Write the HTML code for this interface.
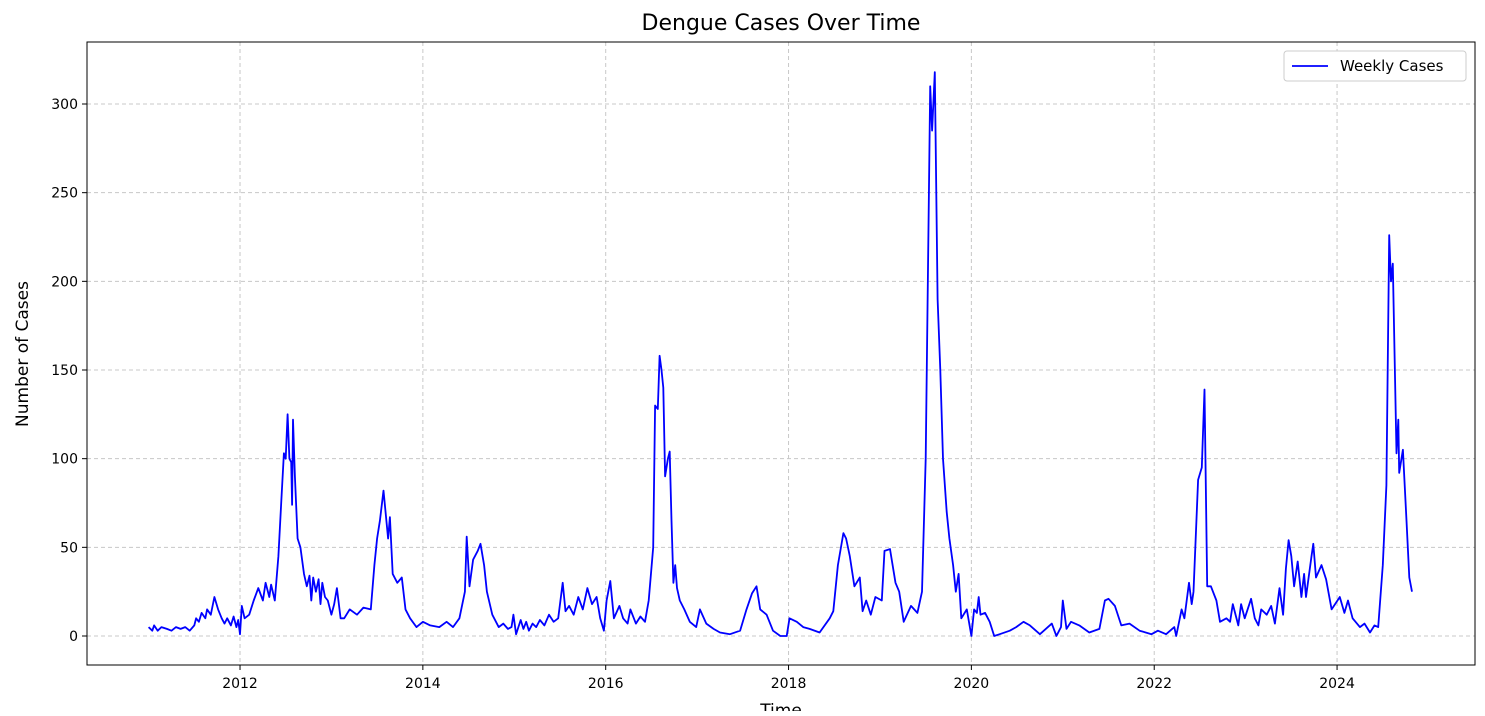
<!DOCTYPE html>
<html><head><meta charset="utf-8"><style>
body{margin:0;background:#fff;font-family:"Liberation Sans","DejaVu Sans",sans-serif}
svg text{font-family:"DejaVu Sans","Liberation Sans",sans-serif}
</style></head><body>
<svg id="chart" width="1485" height="711">
<text x="781" y="30" font-size="22" text-anchor="middle">Dengue Cases Over Time</text>
<g id="grid"></g><g id="ticks"></g>
<path id="line" fill="none" stroke="#0000ff" stroke-width="1.8" stroke-linejoin="round"/>
<rect x="87" y="42" width="1388" height="623" fill="none" stroke="#000" stroke-width="1"/>
<text x="28" y="354" font-size="17" text-anchor="middle" transform="rotate(-90 28 354)">Number of Cases</text>
<text x="781" y="716" font-size="17" text-anchor="middle">Time</text>
<g>
<rect x="1284" y="51" width="182" height="30" rx="3" fill="#fff" stroke="#ccc"/>
<line x1="1292" y1="66" x2="1328" y2="66" stroke="#0000ff" stroke-width="1.8"/>
<text x="1340" y="71" font-size="15">Weekly Cases</text>
</g>
</svg>
<script>
const dates=[
2011.0,2011.04,2011.06,2011.1,2011.14,2011.2,2011.25,2011.3,2011.35,2011.4,2011.45,2011.5,2011.52,2011.55,2011.58,2011.62,2011.64,2011.68,2011.72,2011.76,2011.8,2011.83,2011.86,2011.9,2011.93,2011.96,2011.98,
2012.0,2012.02,2012.05,2012.1,2012.15,2012.2,2012.25,2012.28,2012.32,2012.34,2012.38,2012.42,2012.45,2012.48,2012.5,2012.52,2012.54,2012.56,2012.57,2012.58,2012.6,2012.63,2012.66,2012.7,2012.73,2012.76,2012.78,2012.8,2012.83,2012.86,2012.88,2012.9,2012.93,2012.96,
2013.0,2013.03,2013.06,2013.1,2013.14,2013.2,2013.28,2013.35,2013.43,2013.47,2013.5,2013.53,2013.57,2013.62,2013.64,2013.67,2013.72,2013.77,2013.81,2013.86,2013.93,
2014.0,2014.08,2014.18,2014.26,2014.33,2014.4,2014.46,2014.48,2014.51,2014.55,2014.6,2014.63,2014.67,2014.7,2014.76,2014.83,2014.88,2014.93,2014.97,2014.99,
2015.02,2015.07,2015.1,2015.13,2015.16,2015.2,2015.24,2015.28,2015.33,2015.38,2015.43,2015.48,2015.53,2015.56,2015.6,2015.65,2015.7,2015.75,2015.8,2015.85,2015.9,2015.94,2015.98,
2016.01,2016.05,2016.09,2016.15,2016.19,2016.24,2016.27,2016.33,2016.38,2016.43,2016.47,2016.52,
2016.54,2016.57,2016.59,2016.61,2016.63,2016.65,2016.68,2016.7,2016.72,2016.74,2016.76,2016.78,2016.81,2016.86,2016.92,2016.99,
2017.03,2017.1,2017.18,2017.25,2017.36,2017.47,2017.54,2017.6,2017.65,2017.69,2017.76,2017.83,2017.91,2017.98,
2018.01,2018.09,2018.16,2018.23,2018.34,2018.45,2018.49,2018.54,2018.6,2018.63,2018.67,2018.72,2018.78,2018.81,2018.85,2018.9,2018.95,
2019.02,2019.05,2019.11,2019.17,2019.21,2019.26,2019.34,2019.41,2019.46,
2019.5,2019.55,2019.57,2019.6,2019.63,2019.66,2019.69,2019.73,2019.76,2019.8,2019.83,2019.86,2019.89,2019.95,
2020.0,2020.03,2020.06,2020.08,2020.1,2020.15,2020.2,2020.25,
2020.31,2020.42,2020.49,2020.57,2020.64,2020.75,2020.88,2020.93,2020.98,
2021.0,2021.04,2021.09,2021.18,2021.29,2021.4,2021.46,2021.5,2021.57,2021.64,2021.73,2021.84,2021.97,
2022.04,2022.13,2022.22,2022.24,2022.3,2022.33,2022.38,2022.41,2022.43,2022.48,2022.52,2022.55,2022.58,2022.62,2022.68,2022.72,2022.79,2022.83,2022.86,2022.92,2022.95,2022.99,
2023.06,2023.1,2023.14,2023.17,2023.23,2023.28,2023.32,2023.37,2023.41,2023.44,2023.47,2023.5,2023.53,2023.57,2023.61,2023.64,2023.66,2023.72,2023.74,2023.77,2023.83,2023.88,2023.94,
2024.03,2024.08,2024.12,2024.17,2024.25,2024.3,2024.36,2024.41,2024.45,2024.5,2024.54,2024.57,2024.59,2024.61,2024.65,2024.67,2024.68,2024.72,2024.76,2024.79,2024.82];
const cases=[
5,3,6,3,5,4,3,5,4,5,3,6,10,8,13,10,15,12,22,15,10,7,10,6,11,5,9,
1,17,10,12,20,27,20,30,22,29,20,45,75,103,100,125,100,98,74,122,90,55,50,35,28,34,20,33,25,32,18,30,22,20,
12,18,27,10,10,15,12,16,15,40,55,65,82,55,67,35,30,33,15,10,5,
8,6,5,8,5,10,25,56,28,43,48,52,40,25,12,5,7,4,5,12,
1,9,4,8,3,7,5,9,6,12,8,10,30,14,17,12,22,15,27,18,22,10,3,
20,31,10,17,10,7,15,7,11,8,20,50,
130,128,158,150,140,90,100,104,65,30,40,27,20,15,8,5,
15,7,4,2,1,3,15,24,28,15,12,3,0,0,
10,8,5,4,2,10,14,40,58,55,45,28,33,14,20,12,22,
20,48,49,30,25,8,17,13,25,
100,310,285,318,190,150,100,70,55,40,25,35,10,15,
0,15,13,22,12,13,8,0,
1,3,5,8,6,1,7,0,5,
20,4,8,6,2,4,20,21,17,6,7,3,1,
3,1,5,0,15,10,30,18,25,88,95,139,28,28,20,8,10,8,18,6,18,10,
21,10,6,15,12,17,7,27,12,38,54,45,28,42,22,35,22,45,52,33,40,32,15,
22,13,20,10,5,7,2,6,5,40,85,226,200,210,103,122,92,105,65,33,25];
const yTicks=[0,50,100,150,200,250,300];
const xTicks=[2012,2014,2016,2018,2020,2022,2024];
const NS='http://www.w3.org/2000/svg';
const X=v=>148.6+(v-2011)*91.42;
const Y=v=>636-v*(532/300);
const grid=document.getElementById('grid'),ticks=document.getElementById('ticks');
function mk(tag,attrs,parent){const e=document.createElementNS(NS,tag);for(const k in attrs)e.setAttribute(k,attrs[k]);parent.appendChild(e);return e;}
yTicks.forEach(t=>{
  const g=mk('line',{x1:87,x2:1475,y1:Y(t),y2:Y(t),stroke:'#c8c8c8','stroke-dasharray':'4,3'},grid);
  
  
  mk('line',{x1:82,x2:87,y1:Y(t),y2:Y(t),stroke:'#000'},ticks);
  const l=mk('text',{x:78,y:Y(t)+5,'font-size':14,'text-anchor':'end'},ticks);l.textContent=t;
  
  
});
xTicks.forEach(t=>{
  const g=mk('line',{x1:X(t),x2:X(t),y1:42,y2:665,stroke:'#c8c8c8','stroke-dasharray':'4,3'},grid);
  
  
  mk('line',{x1:X(t),x2:X(t),y1:665,y2:670,stroke:'#000'},ticks);
  const l=mk('text',{x:X(t),y:688,'font-size':14,'text-anchor':'middle'},ticks);l.textContent=t;
  
  
});
const n=Math.min(dates.length,cases.length);
document.getElementById('line').setAttribute('d',dates.slice(0,n).map((d,i)=>(i?'L':'M')+X(d).toFixed(1)+','+Y(cases[i]).toFixed(1)).join(''));
</script>
</body></html>
